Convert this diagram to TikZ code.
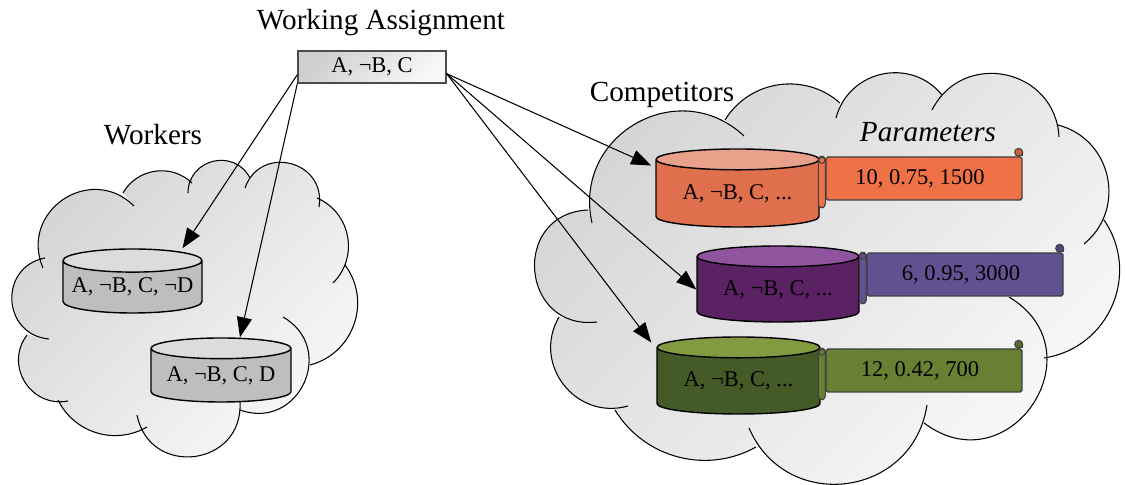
\documentclass[tikz,border=0pt]{standalone}
\usepackage{fontspec}
\setmainfont{Liberation Serif}
\usepackage{xcolor}
\usetikzlibrary{shapes.geometric,arrows.meta,calc}

\definecolor{orangetop}{HTML}{E9A18B}
\definecolor{orangebody}{HTML}{E06F4D}
\definecolor{orangescroll}{HTML}{EF7246}
\definecolor{purpletop}{HTML}{90539E}
\definecolor{purplebody}{HTML}{5A2163}
\definecolor{purplescroll}{HTML}{625191}
\definecolor{greentop}{HTML}{829A40}
\definecolor{greenbody}{HTML}{445A27}
\definecolor{greenscroll}{HTML}{678033}
\definecolor{greytop}{HTML}{DCDCDC}
\definecolor{greybody}{HTML}{BEBEBE}

\tikzset{
  big/.style={font=\fontsize{8.3}{10}\selectfont},
  small/.style={font=\fontsize{6.4}{8}\selectfont},
  cloudfill/.style={left color=black!17,right color=black!2,shading angle=45},
  store/.style={cylinder,shape border rotate=90,draw,line width=.4pt,aspect=.19,inner sep=0pt,
    anchor=shape center,cylinder uses custom fill,small},
  paramscroll/.style={draw=black!75,line width=.4pt,inner sep=0pt,minimum width=1.96cm,
    minimum height=.43cm,small,rounded corners=.5pt},
  rollline/.style={draw=black!75,line width=.3pt},
  lobe/.style={bend left=#1,looseness={1.333*tan(#1/2)/(.783*sin(#1))}},
  link/.style={line width=.3pt,-{Triangle[length=.2cm,width=.15cm]}}
}

% text of a scroll sits a little up and to the left
\newcommand{\paramtext}[1]{\raisebox{.02cm}{#1}\kern.08cm}

% rolled ends of a parameter scroll
\newcommand{\scrollcurls}[2]{
  \draw[rollline,fill=#2,rounded corners=1pt] ([xshift=-.07cm]#1.north west) rectangle ([yshift=-.07cm]#1.south west);
  \draw[rollline,fill=#2] ([shift={(-.035,-.04)}]#1.north west) circle (.03);
  \fill[#2] ([xshift=-.04cm]#1.north east) rectangle ([yshift=.04cm]#1.north east);
  \draw[rollline] (#1.north east) -- ++(0,.04);
  \draw[rollline,fill=#2!85!black] ([shift={(-.04,.04)}]#1.north east) circle (.04);
}

% the bumps of the two clouds, #1 joins them
\newcommand{\workerslobes}[1]{
  (0.43,2.17) to[lobe=79] (1.34,2.79) #1
  (1.23,2.92) to[lobe=52] (1.92,3.02) #1
  (1.88,2.92) to[lobe=76] (2.50,3.07) #1
  (2.45,2.97) to[lobe=85] (3.19,2.78) #1
  (3.17,2.87) to[lobe=56] (3.33,2.02) #1
  (3.45,2.20) to[lobe=56] (3.10,1.20) #1
  (2.83,1.68) to[lobe=85] (2.40,0.75) #1
  (2.40,0.83) to[lobe=86] (1.37,0.70) #1
  (1.47,0.58) to[lobe=47] (0.58,0.85) #1
  (0.68,0.84) to[lobe=69] (0.27,1.50) #1
  (0.49,1.46) to[lobe=82] (0.45,2.27)
}
\newcommand{\competitorslobes}[1]{
  (5.92,2.62) to[lobe=73] (7.44,3.49) #1
  (7.25,3.65) to[lobe=50] (8.40,3.82) #1
  (8.36,3.67) to[lobe=63] (9.42,3.90) #1
  (9.32,3.75) to[lobe=75] (10.59,3.48) #1
  (10.58,3.60) to[lobe=63] (10.84,2.41) #1
  (11.04,2.65) to[lobe=58] (10.44,1.27) #1
  (10.09,1.88) to[lobe=93] (9.24,0.62) #1
  (9.27,0.80) to[lobe=74] (7.49,0.57) #1
  (7.56,0.38) to[lobe=44] (6.15,0.75) #1
  (6.28,0.79) to[lobe=68] (5.59,1.68) #1
  (5.97,1.63) to[lobe=92] (5.88,2.75)
}

\begin{document}
\begin{tikzpicture}
    \useasboundingbox (0,0) rectangle (11.25,4.85);

    % Clouds
    \shade[cloudfill] \workerslobes{--} -- cycle;
    \draw[line width=.3pt] \workerslobes{};
    \shade[cloudfill] \competitorslobes{--} -- cycle;
    \draw[line width=.3pt] \competitorslobes{};

    % Titles
    \node[big] (waTitle) at (3.81, 4.62) {Working Assignment};
    \node[big] (workersTitle) at (1.53, 3.50) {Workers};
    \node[big] (compTitle) at (6.62, 3.90) {Competitors};
    \node[big] (paramTitle) at (9.28, 3.53) {\itshape Parameters};

    % Working assignment
    \node[draw=black!70,line width=.4pt,left color=black!19,right color=black!3,shading angle=45,
      minimum width=1.48cm,minimum height=.32cm,inner sep=0pt,small] (wa) at (3.72, 4.18) {A, ¬B, C};
    \coordinate (waLeft) at ($(wa.south west)+(0,.09)$);
    \coordinate (waRight) at ($(wa.south east)+(0,.10)$);

    % Workers
    \node[store,minimum width=1.39cm,minimum height=.64cm,cylinder body fill=greybody,cylinder end fill=greytop]
      (workerA) at (1.325, 2.04) {A, ¬B, C, ¬D};
    \node[store,minimum width=1.40cm,minimum height=.64cm,cylinder body fill=greybody,cylinder end fill=greytop]
      (workerB) at (2.21, 1.15) {A, ¬B, C, D};

    % Competitors
    \node[store,minimum width=1.63cm,minimum height=.78cm,cylinder body fill=orangebody,cylinder end fill=orangetop]
      (compA) at (7.375, 2.97) {A, ¬B, C, ...};
    \node[store,minimum width=1.62cm,minimum height=.76cm,cylinder body fill=purplebody,cylinder end fill=purpletop]
      (compB) at (7.78, 2.01) {A, ¬B, C, ...};
    \node[store,minimum width=1.63cm,minimum height=.77cm,cylinder body fill=greenbody,cylinder end fill=greentop]
      (compC) at (7.385, 1.095) {A, ¬B, C, ...};

    % Parameter scrolls
    \node[paramscroll,fill=orangescroll] (paramA) at (9.24, 3.065) {\paramtext{10, 0.75, 1500}};
    \scrollcurls{paramA}{orangescroll}
    \node[paramscroll,fill=purplescroll] (paramB) at (9.65, 2.105) {\paramtext{6, 0.95, 3000}};
    \scrollcurls{paramB}{purplescroll}
    \node[paramscroll,fill=greenscroll] (paramC) at (9.24, 1.145) {\paramtext{12, 0.42, 700}};
    \scrollcurls{paramC}{greenscroll}

    % Copies of the assignment
    \draw[link] (waLeft) -- ([xshift=.5cm]workerA.north);
    \draw[link] (wa.south west) -- ([xshift=.19cm]workerB.north);
    \draw[link] (waRight) -- ([shift={(-.04,.28)}]compA.west);
    \draw[link] (waRight) -- (compB.west);
    \draw[link] (waRight) -- ([shift={(-.05,.385)}]compC.west);
\end{tikzpicture}
\end{document}
